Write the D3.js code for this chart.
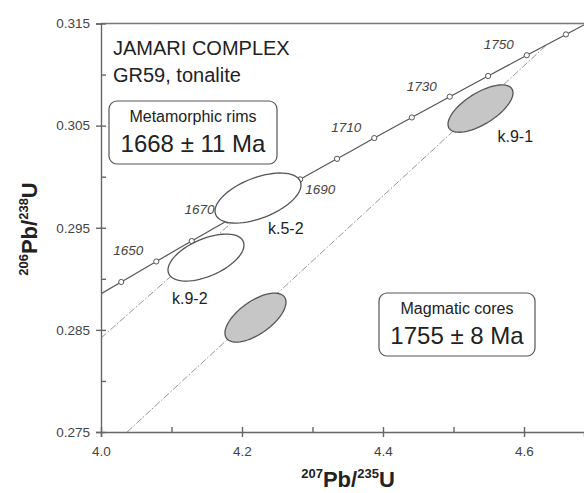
<!DOCTYPE html>
<html lang="en">
<head>
  <meta charset="UTF-8">
  <title>Jamari Complex concordia</title>
  <style>
    body { margin: 0; background: #fff; }
    svg { display: block; font-family: Arial, 'Liberation Sans', sans-serif; }
    .tick text { fill: #444; font-size: 13.5px; }
    .domain, .tick line { stroke: #666; stroke-width: 1.4px; }
    .age { font-style: italic; font-size: 13.5px; fill: #444; }
    .spot-label { font-size: 16px; fill: #222; }
  </style>
</head>
<body>
  <div id="chart"></div>
  <script src="https://d3js.org/d3.v7.min.js"></script>
  <script>
    // concordia points (Ma) and ratios
    const concAges = [1630, 1640, 1650, 1660, 1670, 1680, 1690, 1700, 1710, 1720, 1730, 1740, 1750, 1760, 1770];
    const concX = [3.9794, 4.0287, 4.0784, 4.1287, 4.1795, 4.2307, 4.2825, 4.3348, 4.3876, 4.4409, 4.4947, 4.5491, 4.6040, 4.6595, 4.7155];
    const concY = [0.28770, 0.28969, 0.29170, 0.29370, 0.29571, 0.29772, 0.29974, 0.30175, 0.30378, 0.30580, 0.30783, 0.30986, 0.31189, 0.31393, 0.31597];
    const labelAges = [1650, 1670, 1690, 1710, 1730, 1750];

    // analysed spots: centre, half-axes and correlation
    const spotNames = ['k.9-2', 'k.5-2', '', 'k.9-1'];
    const spotGroup = ['rim', 'rim', 'core', 'core'];
    const spotX = [4.1489, 4.2227, 4.2191, 4.5383];
    const spotY = [0.29208, 0.29791, 0.28620, 0.30667];
    const spotSX = [0.0539, 0.0610, 0.0433, 0.0461];
    const spotSY = [0.00230, 0.00245, 0.00240, 0.00232];
    const spotRho = [0.53, 0.52, 0.63, 0.66];

    // discordia chords
    const rimLineX = [4.0, 4.21];
    const rimLineY = [0.2842, 0.2970];
    const coreLineX = [4.037, 4.6318];
    const coreLineY = [0.2750, 0.31288];

    const xTicks = [4.0, 4.2, 4.4, 4.6];
    const xMinor = [4.1, 4.3, 4.5];
    const yTicks = [0.275, 0.285, 0.295, 0.305, 0.315];
    const yMinor = [0.28, 0.29, 0.30, 0.31];

    const W = 584, H = 493;
    const pLeft = 101, pRight = 584, pTop = 23.5, pBottom = 432;

    const svg = d3.select('#chart').append('svg')
      .attr('width', W).attr('height', H);

    const x = d3.scaleLinear().domain([4.0, 4.0 + (pRight - pLeft) / 705]).range([pLeft, pRight]);
    const y = d3.scaleLinear().domain([0.275, 0.315]).range([pBottom, pTop]);

    svg.append('clipPath').attr('id', 'plot')
      .append('rect').attr('x', pLeft).attr('y', pTop)
      .attr('width', pRight - pLeft).attr('height', pBottom - pTop);

    const plot = svg.append('g').attr('clip-path', 'url(#plot)');

    // discordia lines
    const chord = (xs, ys) => d3.line()(xs.map((v, i) => [x(v), y(ys[i])]));
    [[rimLineX, rimLineY], [coreLineX, coreLineY]].forEach(([xs, ys]) => {
      plot.append('path')
        .attr('d', chord(xs, ys))
        .attr('fill', 'none')
        .attr('stroke', '#888')
        .attr('stroke-width', 0.9)
        .attr('stroke-dasharray', '7,2,1.5,2');
    });

    // concordia curve
    const curve = d3.line().curve(d3.curveMonotoneX)
      .x((d, i) => x(concX[i])).y((d, i) => y(concY[i]));
    plot.append('path')
      .attr('d', curve(concAges))
      .attr('fill', 'none')
      .attr('stroke', '#555')
      .attr('stroke-width', 1.2);

    plot.selectAll('.marker')
      .data(concAges.filter(a => a >= 1640 && a <= 1760))
      .enter().append('circle')
      .attr('class', 'marker')
      .attr('cx', a => x(concX[concAges.indexOf(a)]))
      .attr('cy', a => y(concY[concAges.indexOf(a)]))
      .attr('r', 2.6)
      .attr('fill', '#fff')
      .attr('stroke', '#555')
      .attr('stroke-width', 1);

    // error ellipses
    const ellipse = i => {
      const pts = d3.range(0, 72).map(k => {
        const t = k / 72 * 2 * Math.PI;
        const px = spotX[i] + spotSX[i] * Math.cos(t);
        const py = spotY[i] + spotSY[i] * (spotRho[i] * Math.cos(t) + Math.sqrt(1 - spotRho[i] ** 2) * Math.sin(t));
        return [x(px), y(py)];
      });
      return d3.line().curve(d3.curveLinearClosed)(pts);
    };
    spotNames.forEach((name, i) => {
      plot.append('path')
        .attr('d', ellipse(i))
        .attr('fill', spotGroup[i] === 'core' ? '#c6c6c6' : '#fff')
        .attr('stroke', '#555')
        .attr('stroke-width', 1.3);
    });

    // frame top
    svg.append('line')
      .attr('x1', pLeft).attr('x2', pRight).attr('y1', pTop).attr('y2', pTop)
      .attr('stroke', '#777').attr('stroke-width', 1.4);

    // axes
    const yAxis = svg.append('g').attr('transform', `translate(${pLeft},0)`)
      .call(d3.axisLeft(y).tickValues(yTicks).tickFormat(d3.format('.3f')).tickSize(5).tickPadding(6));
    yAxis.selectAll('.tick line').attr('x1', 5);
    svg.append('g').attr('transform', `translate(${pLeft},0)`)
      .call(d3.axisRight(y).tickValues(yMinor).tickSize(5).tickFormat(''))
      .select('.domain').remove();

    const xAxis = svg.append('g').attr('transform', `translate(0,${pBottom})`)
      .call(d3.axisBottom(x).tickValues(xTicks).tickFormat(d3.format('.1f')).tickSize(5).tickPadding(9));
    xAxis.selectAll('.tick line').attr('y1', -5);
    svg.append('g').attr('transform', `translate(0,${pBottom})`)
      .call(d3.axisTop(x).tickValues(xMinor).tickSize(5).tickFormat(''))
      .select('.domain').remove();
    svg.selectAll('.domain').attr('stroke', '#666');

    // age labels on concordia
    labelAges.forEach(a => {
      const i = concAges.indexOf(a);
      const cx = x(concX[i]), cy = y(concY[i]);
      const below = a === 1690;
      svg.append('text').attr('class', 'age')
        .attr('x', below ? cx + 5 : cx - 13)
        .attr('y', below ? cy + 15 : cy - 6)
        .attr('text-anchor', below ? 'start' : 'end')
        .text(a);
    });

    // spot labels
    const spotOffset = { 'k.9-2': [-34, 46], 'k.5-2': [10, 36], 'k.9-1': [17, 33] };
    spotNames.forEach((name, i) => {
      if (!name) return;
      const o = spotOffset[name];
      svg.append('text').attr('class', 'spot-label')
        .attr('x', x(spotX[i]) + o[0]).attr('y', y(spotY[i]) + o[1])
        .text(name);
    });

    // title
    svg.append('text').attr('x', 113).attr('y', 55)
      .attr('font-size', 20).attr('fill', '#222').text('JAMARI COMPLEX');
    svg.append('text').attr('x', 113).attr('y', 82)
      .attr('font-size', 20).attr('fill', '#222').text('GR59, tonalite');

    // age boxes
    const ageBox = (bx, by, bw, bh, line1, line2) => {
      svg.append('rect').attr('x', bx).attr('y', by).attr('width', bw).attr('height', bh)
        .attr('rx', 8).attr('fill', '#fff').attr('stroke', '#555').attr('stroke-width', 1.2);
      svg.append('text').attr('x', bx + bw / 2).attr('y', by + 21)
        .attr('text-anchor', 'middle').attr('font-size', 16).attr('fill', '#222').text(line1);
      svg.append('text').attr('x', bx + bw / 2).attr('y', by + 51)
        .attr('text-anchor', 'middle').attr('font-size', 24).attr('fill', '#222').text(line2);
    };
    ageBox(109, 101, 168, 63, 'Metamorphic rims', '1668 ± 11 Ma');
    ageBox(379, 293, 156, 63, 'Magmatic cores', '1755 ± 8 Ma');

    // axis titles
    const xt = svg.append('text').attr('x', 348).attr('y', 487)
      .attr('text-anchor', 'middle').attr('font-weight', 'bold').attr('fill', '#222');
    xt.append('tspan').attr('font-size', 13).attr('dy', -9).text('207');
    xt.append('tspan').attr('font-size', 22).attr('dy', 9).text('Pb/');
    xt.append('tspan').attr('font-size', 13).attr('dy', -9).text('235');
    xt.append('tspan').attr('font-size', 22).attr('dy', 9).text('U');

    const yt = svg.append('text').attr('transform', 'translate(37,229) rotate(-90)')
      .attr('text-anchor', 'middle').attr('font-weight', 'bold').attr('fill', '#222');
    yt.append('tspan').attr('font-size', 13).attr('dy', -9).text('206');
    yt.append('tspan').attr('font-size', 22).attr('dy', 9).text('Pb/');
    yt.append('tspan').attr('font-size', 13).attr('dy', -9).text('238');
    yt.append('tspan').attr('font-size', 22).attr('dy', 9).text('U');
  </script>
</body>
</html>
